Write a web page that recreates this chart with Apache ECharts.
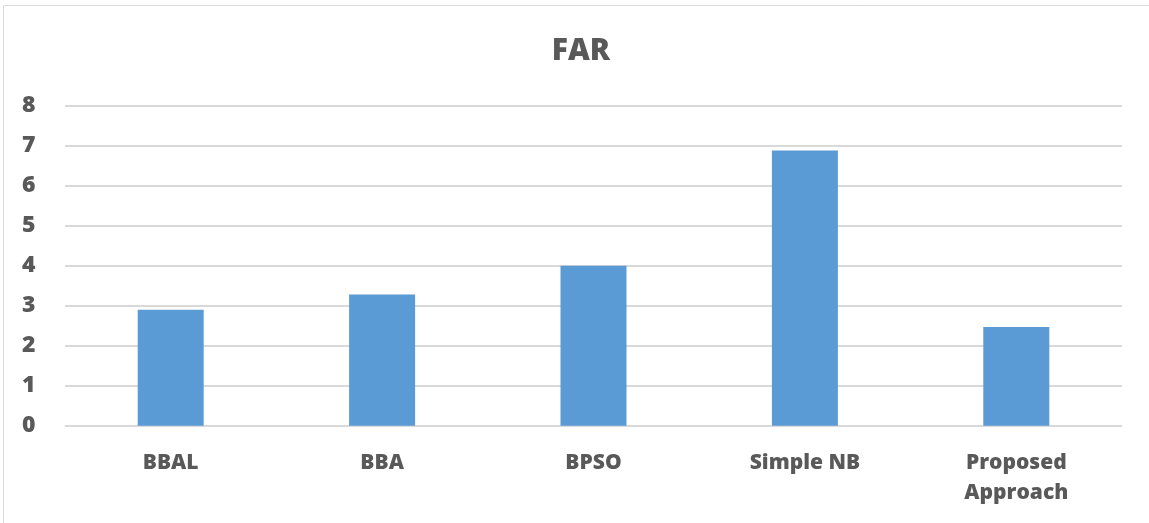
<!DOCTYPE html>
<html>
<head>
<meta charset="utf-8">
<script src="https://cdn.jsdelivr.net/npm/echarts@6/dist/echarts.min.js"></script>
<style>
  html, body { margin: 0; padding: 0; background: #fff; }
  #chart { width: 1149px; height: 523px; }
</style>
</head>
<body>
<div id="chart"></div>
<script>
// False alarm rate per method
const categories = ['BBAL', 'BBA', 'BPSO', 'Simple NB', 'Proposed\nApproach'];
const farValues = [2.9, 3.28, 4.0, 6.88, 2.47];
const yTicks = { min: 0, max: 8, interval: 1 };

const textColor = '#595959';
const chart = echarts.init(document.getElementById('chart'));
chart.setOption({
  backgroundColor: '#fff',
  animation: false,
  graphic: [{
    type: 'rect',
    shape: { x: 3.5, y: 5.5, width: 1160, height: 530 },
    style: { fill: 'none', stroke: '#d9d9d9', lineWidth: 1 },
    silent: true
  }],
  title: {
    text: 'FAR',
    left: 576,
    textAlign: 'center',
    top: 31,
    textStyle: { fontFamily: 'Open Sans', fontWeight: 800, fontSize: 30, color: textColor }
  },
  grid: { left: 65, right: 27, top: 105.7, bottom: 97.3, containLabel: false },
  xAxis: {
    type: 'category',
    data: categories,
    axisLine: { show: true, lineStyle: { color: '#d9d9d9', width: 1 } },
    axisTick: { show: false },
    axisLabel: {
      margin: 22,
      fontFamily: 'Open Sans', fontWeight: 800, fontSize: 21,
      color: textColor, lineHeight: 30
    }
  },
  yAxis: {
    type: 'value',
    min: yTicks.min, max: yTicks.max, interval: yTicks.interval,
    axisLine: { show: false },
    axisTick: { show: false },
    splitLine: { lineStyle: { color: '#d9d9d9', width: 2 } },
    axisLabel: {
      margin: 43,
      align: 'left',
      fontFamily: 'Open Sans', fontWeight: 800, fontSize: 23, color: textColor
    }
  },
  series: [{
    type: 'bar',
    data: farValues,
    barWidth: 66,
    itemStyle: { color: '#5b9bd5' }
  }]
});
</script>
</body>
</html>
